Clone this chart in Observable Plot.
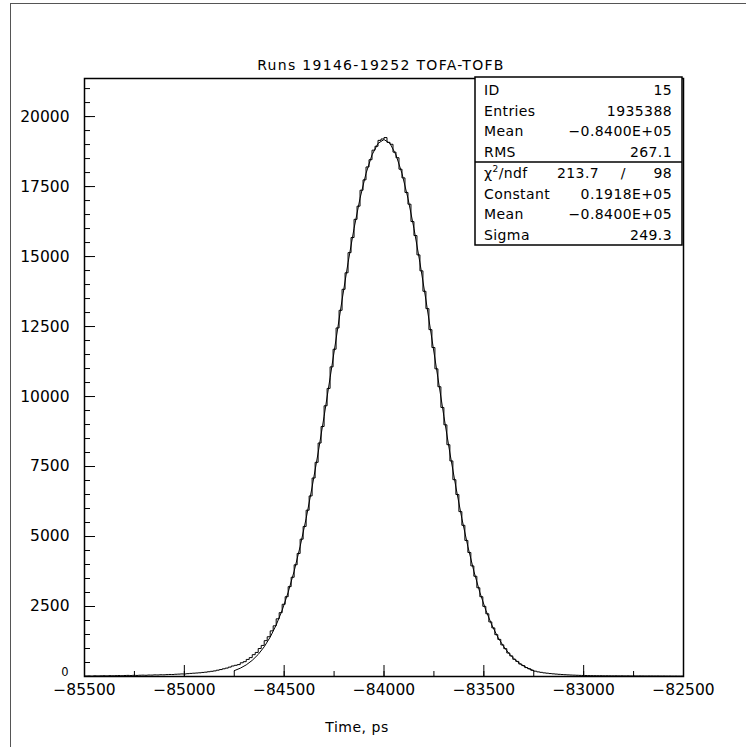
<!DOCTYPE html>
<html><head><meta charset="utf-8">
<script src="https://cdn.jsdelivr.net/npm/d3@7"></script>
<script src="https://cdn.jsdelivr.net/npm/@observablehq/plot@0.6"></script>
<style>
html,body{margin:0;padding:0;background:#fff;}
#wrap{position:relative;width:746px;height:747px;overflow:hidden;}
#outer{position:absolute;left:10px;top:3px;width:800px;height:800px;border-left:1px solid #555;border-top:1px solid #555;pointer-events:none;}
</style></head><body><div id="wrap"></div>
<script>
// ---- data ----
const title = "Runs 19146-19252 TOFA-TOFB";
const xLabel = "Time, ps";
const xMin = -85500, xMax = -82500, binWidth = 15;
const yMax = 21360;
const xMajorTicks = [-85500, -85000, -84500, -84000, -83500, -83000, -82500];
const xMinorTicks = d3.range(-85500, -82499, 250);
const yMajorTicks = [2500, 5000, 7500, 10000, 12500, 15000, 17500, 20000];
const yZeroTick = [0];
const yMinorTicks = d3.range(0, 21001, 500);

// histogram bin contents (200 bins of 15 ps, from -85500)
const counts = [
  18, 22, 15, 25, 20, 24, 28, 22, 30, 26,
  30, 34, 28, 36, 40, 33, 42, 38, 45, 48,
  44, 52, 50, 58, 55, 62, 60, 68, 72, 70,
  80, 85, 92, 90, 102, 110, 118, 125, 132, 145,
  155, 170, 185, 200, 225, 248, 275, 300, 335, 375,
  400, 425, 490, 530, 610, 675, 780, 860, 1000, 1110,
  1280, 1420, 1630, 1810, 2060, 2280, 2580, 2850, 3210, 3545,
  3990, 4395, 4905, 5360, 5940, 6450, 7090, 7650, 8340, 8930,
  9670, 10290, 11060, 11690, 12450, 13080, 13830, 14420, 15140, 15680,
  16330, 16800, 17370, 17740, 18200, 18460, 18800, 18940, 19150, 19200,
  19250, 19080, 19010, 18730, 18530, 18120, 17810, 17290, 16870, 16250,
  15750, 15060, 14490, 13760, 13140, 12390, 11750, 10990, 10350, 9610,
  8990, 8280, 7700, 7030, 6500, 5890, 5400, 4860, 4430, 3950,
  3580, 3170, 2850, 2505, 2240, 1950, 1735, 1495, 1325, 1130,
  995, 840, 735, 615, 540, 445, 390, 318, 275, 222,
  190, 165, 148, 130, 118, 105, 95, 86, 78, 70,
  64, 58, 52, 48, 44, 40, 37, 35, 32, 30,
  29, 27, 28, 25, 26, 24, 23, 25, 22, 24,
  21, 23, 20, 22, 19, 21, 20, 18, 20, 19,
  18, 19, 17, 18, 16, 17, 15, 16, 14, 15
];

// fitted gaussian curve, sampled every 30 ps from -84750 to -83250
const fitStart = -84750, fitStep = 30;
const fitValues = [
  208, 296, 415, 577, 787, 1060, 1406, 1839, 2368, 3007,
  3763, 4644, 5642, 6767, 7985, 9293, 10669, 12055, 13448, 14779,
  16006, 17082, 17970, 18632, 19042, 19180, 19042, 18632, 17970, 17082,
  16006, 14779, 13448, 12055, 10669, 9293, 7985, 6767, 5642, 4644,
  3763, 3007, 2368, 1839, 1406, 1060, 787, 577, 415, 296, 208
];

// statistics box
const statLabels = ["ID", "Entries", "Mean", "RMS"];
const statValues = ["15", "1935388", "\u22120.8400E+05", "267.1"];
const chi2 = "213.7", ndf = "98";
const fitLabels = ["Constant", "Mean", "Sigma"];
const fitParams = ["0.1918E+05", "\u22120.8400E+05", "249.3"];

// ---- build ----
const histPts = counts.map((c, i) => ({x: xMin + i * binWidth, y: c}));
histPts.push({x: xMax, y: counts[counts.length - 1]});
const fitPts = fitValues.map((v, i) => ({x: fitStart + i * fitStep, y: v}));
const fmt = d3.format("d");
const FONT = "'DejaVu Sans', 'Liberation Sans', sans-serif";

const plot = Plot.plot({
  width: 746, height: 747,
  marginLeft: 84, marginRight: 63, marginTop: 78, marginBottom: 71,
  x: {domain: [xMin, xMax]},
  y: {domain: [0, yMax]},
  style: {fontFamily: FONT, fontSize: "15.5px", color: "#000", background: "transparent"},
  marks: [
    Plot.axisX(xMinorTicks, {tickSize: 5, dy: -5, fill: "none", label: null, stroke: "black"}),
    Plot.axisX(xMajorTicks, {tickSize: 11, dy: -11, fill: "none", label: null, stroke: "black"}),
    Plot.axisX(xMajorTicks, {tickSize: 0, tickPadding: 7, label: null, tickFormat: fmt, fontSize: 15.5, fill: "black"}),
    Plot.axisY(yMinorTicks, {tickSize: 6, dx: 6, fill: "none", label: null, stroke: "black"}),
    Plot.axisY(yMajorTicks, {tickSize: 11, dx: 11, fill: "none", label: null, stroke: "black"}),
    Plot.axisY(yMajorTicks, {tickSize: 0, tickPadding: 15, label: null, tickFormat: fmt, fontSize: 15.5, fill: "black"}),
    Plot.axisY(yZeroTick, {tickSize: 0, tickPadding: 16, dy: -4, label: null, tickFormat: fmt, fontSize: 11.5, fill: "black"}),
    Plot.line(histPts, {x: "x", y: "y", curve: "step-after", stroke: "black", strokeWidth: 1}),
    Plot.line(fitPts, {x: "x", y: "y", curve: "linear", stroke: "black", strokeWidth: 1}),
    Plot.frame({stroke: "black", strokeWidth: 1.5})
  ]
});

const wrap = document.getElementById("wrap");
wrap.appendChild(plot);
const outer = document.createElement("div");
outer.id = "outer";
wrap.appendChild(outer);

const svg = d3.select(plot);
const g = svg.append("g").attr("font-family", FONT).attr("font-size", 14).attr("fill", "black").attr("text-anchor", "start");

// title and x-axis title
g.append("text").attr("x", 381).attr("y", 70).attr("text-anchor", "middle").attr("letter-spacing", "1.3px").text(title);
g.append("text").attr("x", 357).attr("y", 732).attr("text-anchor", "middle").attr("letter-spacing", "0.5px").text(xLabel);

// stats box
const bx = 475, by = 77, bw = 207, bh = 168, bdiv = 162;
g.append("rect").attr("x", bx).attr("y", by).attr("width", bw).attr("height", bh)
  .attr("fill", "white").attr("stroke", "black").attr("stroke-width", 1.5);
g.append("line").attr("x1", bx).attr("x2", bx + bw).attr("y1", bdiv).attr("y2", bdiv)
  .attr("stroke", "black").attr("stroke-width", 1.5);
const lx = 484, rx = 672;
const rows1 = [95, 115.5, 136, 156.5];
statLabels.forEach((s, i) => {
  g.append("text").attr("x", lx).attr("y", rows1[i]).attr("text-anchor", "start").attr("letter-spacing", "0.4px").text(s);
  g.append("text").attr("x", rx).attr("y", rows1[i]).attr("text-anchor", "end").attr("letter-spacing", "0.4px").text(statValues[i]);
});
const rows2 = [178, 198.5, 219, 239.5];
const chiT = g.append("text").attr("x", lx).attr("y", rows2[0]).attr("text-anchor", "start").attr("letter-spacing", "0.4px");
chiT.append("tspan").text("\u03C7");
chiT.append("tspan").attr("font-size", 9).attr("dy", -6).text("2");
chiT.append("tspan").attr("dy", 6).text("/ndf");
g.append("text").attr("x", 557).attr("y", rows2[0]).attr("text-anchor", "start").attr("letter-spacing", "0.4px").text(chi2);
g.append("text").attr("x", 623).attr("y", rows2[0]).attr("text-anchor", "middle").text("/");
g.append("text").attr("x", rx).attr("y", rows2[0]).attr("text-anchor", "end").attr("letter-spacing", "0.4px").text(ndf);
fitLabels.forEach((s, i) => {
  g.append("text").attr("x", lx).attr("y", rows2[i + 1]).attr("text-anchor", "start").attr("letter-spacing", "0.4px").text(s);
  g.append("text").attr("x", rx).attr("y", rows2[i + 1]).attr("text-anchor", "end").attr("letter-spacing", "0.4px").text(fitParams[i]);
});
</script>
</body></html>
